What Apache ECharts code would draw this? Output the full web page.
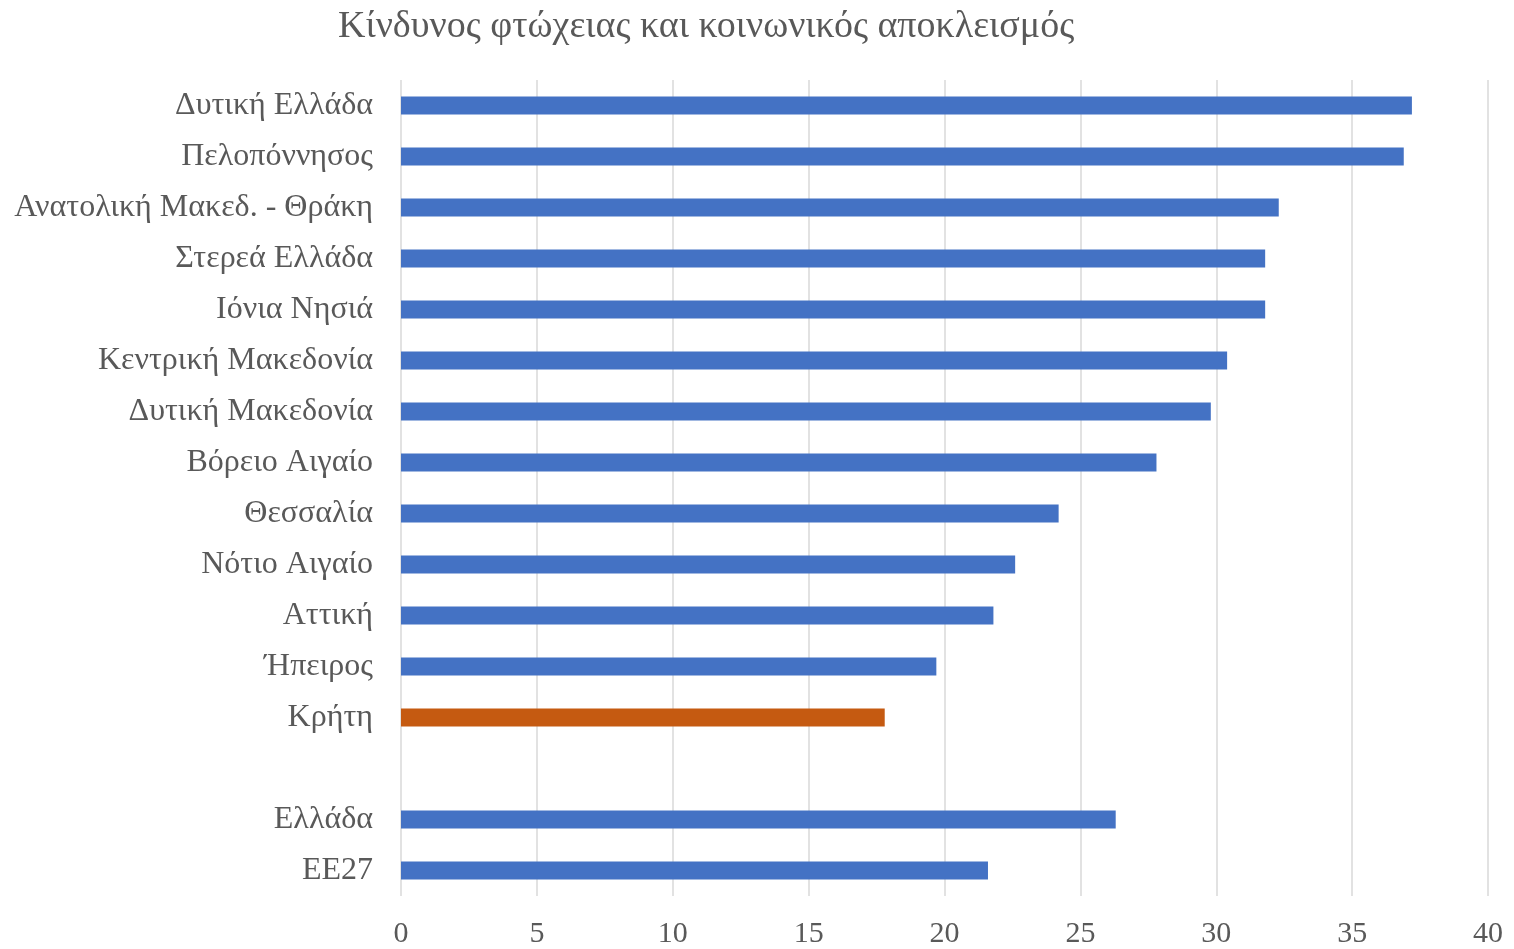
<!DOCTYPE html>
<html>
<head>
<meta charset="utf-8">
<script src="https://cdn.jsdelivr.net/npm/echarts@6/dist/echarts.min.js"></script>
<style>html,body{margin:0;padding:0;background:#fff}#c{width:1514px;height:949px}</style>
</head>
<body>
<div id="c"></div>
<script>
const titleText = 'Κίνδυνος φτώχειας και κοινωνικός αποκλεισμός';
const categories = ['Δυτική Ελλάδα','Πελοπόννησος','Ανατολική Μακεδ. - Θράκη','Στερεά Ελλάδα','Ιόνια Νησιά','Κεντρική Μακεδονία','Δυτική Μακεδονία','Βόρειο Αιγαίο','Θεσσαλία','Νότιο Αιγαίο','Αττική','Ήπειρος','Κρήτη','','Ελλάδα','ΕΕ27'];
const values = [37.2, 36.9, 32.3, 31.8, 31.8, 30.4, 29.8, 27.8, 24.2, 22.6, 21.8, 19.7, 17.8, null, 26.3, 21.6];
const highlighted = ['Κρήτη'];
const xTicks = [0, 5, 10, 15, 20, 25, 30, 35, 40];

const BLUE = '#4472C4', ORANGE = '#C55A11';
const seriesData = values.map((v, i) => ({
  value: v,
  itemStyle: { color: highlighted.includes(categories[i]) ? ORANGE : BLUE }
}));

const chart = echarts.init(document.getElementById('c'));
chart.setOption({
  animation: false,
  backgroundColor: '#fff',
  textStyle: { fontFamily: '"Liberation Serif", "DejaVu Serif", serif' },
  title: {
    text: titleText,
    left: 333, top: 3,
    textStyle: { fontFamily: '"Liberation Serif", serif', fontSize: 38, fontWeight: 'normal', color: '#595959' }
  },
  grid: { left: 401, right: 26, top: 80, bottom: 52, containLabel: false },
  xAxis: {
    type: 'value', min: xTicks[0], max: xTicks[xTicks.length - 1], interval: 5,
    axisLine: { show: false }, axisTick: { show: false },
    splitLine: { show: true, lineStyle: { color: '#D9D9D9', width: 1.5 } },
    axisLabel: { color: '#595959', fontSize: 30, margin: 23, fontFamily: '"Liberation Serif", serif' }
  },
  yAxis: {
    type: 'category', data: categories, inverse: true,
    axisLine: { show: false }, axisTick: { show: false },
    axisLabel: { color: '#595959', fontSize: 32, margin: 28, padding: [4, 0, 0, 0], fontFamily: '"Liberation Serif", serif' }
  },
  series: [{
    type: 'bar', data: seriesData, barWidth: 18
  }]
});
</script>
</body>
</html>
